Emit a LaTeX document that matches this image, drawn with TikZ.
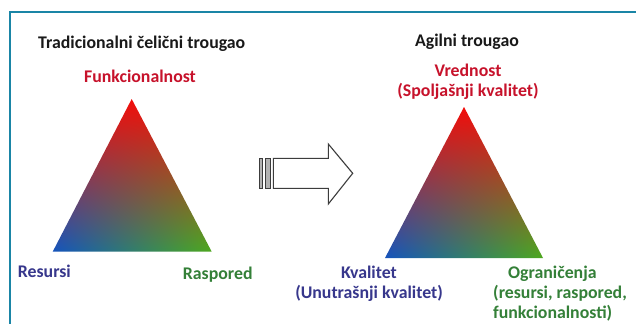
\documentclass[tikz,border=0pt]{standalone}
\usepackage{fontspec}
\setmainfont{Carlito}
\usepackage{xcolor}
\usepackage{tikz}

\definecolor{framecol}{RGB}{26,133,166}
\definecolor{labelred}{RGB}{199,18,43}
\definecolor{labelblue}{RGB}{55,55,140}
\definecolor{labelgreen}{RGB}{52,128,56}
\definecolor{arrowcol}{RGB}{60,60,60}

% red on top, blue bottom left, green bottom right
\pgfdeclarefunctionalshading{rgbtriangle}{\pgfpointorigin}{\pgfpoint{100bp}{100bp}}{}{
  25 sub 50 div exch 25 sub 50 div exch
  1 index 1 index 1 exch sub mul
  3 -1 roll pop
  1 index 0.87 mul 0.08 add 1 index 0.22 mul add
  2 index -0.28 mul 0.33 add 2 index 0.33 mul add
  3 index -0.70 mul 0.74 add 3 index -0.62 mul add
  5 3 roll pop pop
}

\tikzset{
  lbl/.style={font=\bfseries\fontsize{17.8}{20.3}\selectfont, inner sep=0pt},
  heading/.style={lbl, text=black!90},
  redlbl/.style={lbl, text=labelred},
  bluelbl/.style={lbl, text=labelblue},
  greenlbl/.style={lbl, text=labelgreen},
  frame/.style={draw=framecol, line width=2pt},
  bigarrow/.style={draw=arrowcol, fill=white, line width=1.1pt, line join=miter},
  stripe/.style={draw=arrowcol, fill=black!30, line width=0.9pt}
}

\begin{document}
\begin{tikzpicture}[x=1pt, y=-1pt]
			\useasboundingbox (0,0) rectangle (636,324);
			\fill[white] (0,0) rectangle (636,324);
			\draw[frame] (636,11.8) -- (10,11.8) -- (10,324);
			
			% traditional triangle
			\coordinate (fun) at (131.7,99);
			\coordinate (res) at (52.7,251.7);
			\coordinate (ras) at (211.7,251.7);
			\shade[shading=rgbtriangle] (fun) -- (res) -- (ras) -- cycle;
			
			\node[heading, anchor=base west] (trad) at (38,48) {Tradicionalni čelični trougao};
			\node[redlbl, anchor=base] (funlbl) at (140,82) {Funkcionalnost};
			\node[bluelbl, anchor=base west] (reslbl) at (17.7,277.3) {Resursi};
			\node[greenlbl, anchor=base west] (raslbl) at (182.7,279.3) {Raspored};
			
			% agile triangle
			\coordinate (vre) at (464,107);
			\coordinate (kva) at (385,258);
			\coordinate (ogr) at (543,258);
			\shade[shading=rgbtriangle] (vre) -- (kva) -- (ogr) -- cycle;
			
			\node[heading, anchor=base] (agil) at (467,46) {Agilni trougao};
			\node[redlbl, align=center] (vrelbl) at (468,81.6) {Vrednost\\(Spoljašnji kvalitet)};
			\node[bluelbl, align=center] (kvalbl) at (369,283.6) {Kvalitet\\(Unutrašnji kvalitet)};
			\node[greenlbl, align=left, anchor=west] (ogrlbl) at (493,293.6) {\hspace*{15pt}Ograničenja\\(resursi, raspored,\\funkcionalnosti)};
			
			% arrow between them
			\draw[bigarrow] (273.3,158.3) -- (328.3,158.3) -- (328.3,144) -- (352.7,173.3)
				-- (328.3,204) -- (328.3,188.3) -- (273.3,188.3) -- cycle;
			\draw[stripe] (259,158.3) rectangle (262.3,188.3);
			\draw[stripe] (265.7,158.3) rectangle (270.7,188.3);
		\end{tikzpicture}
\end{document}
